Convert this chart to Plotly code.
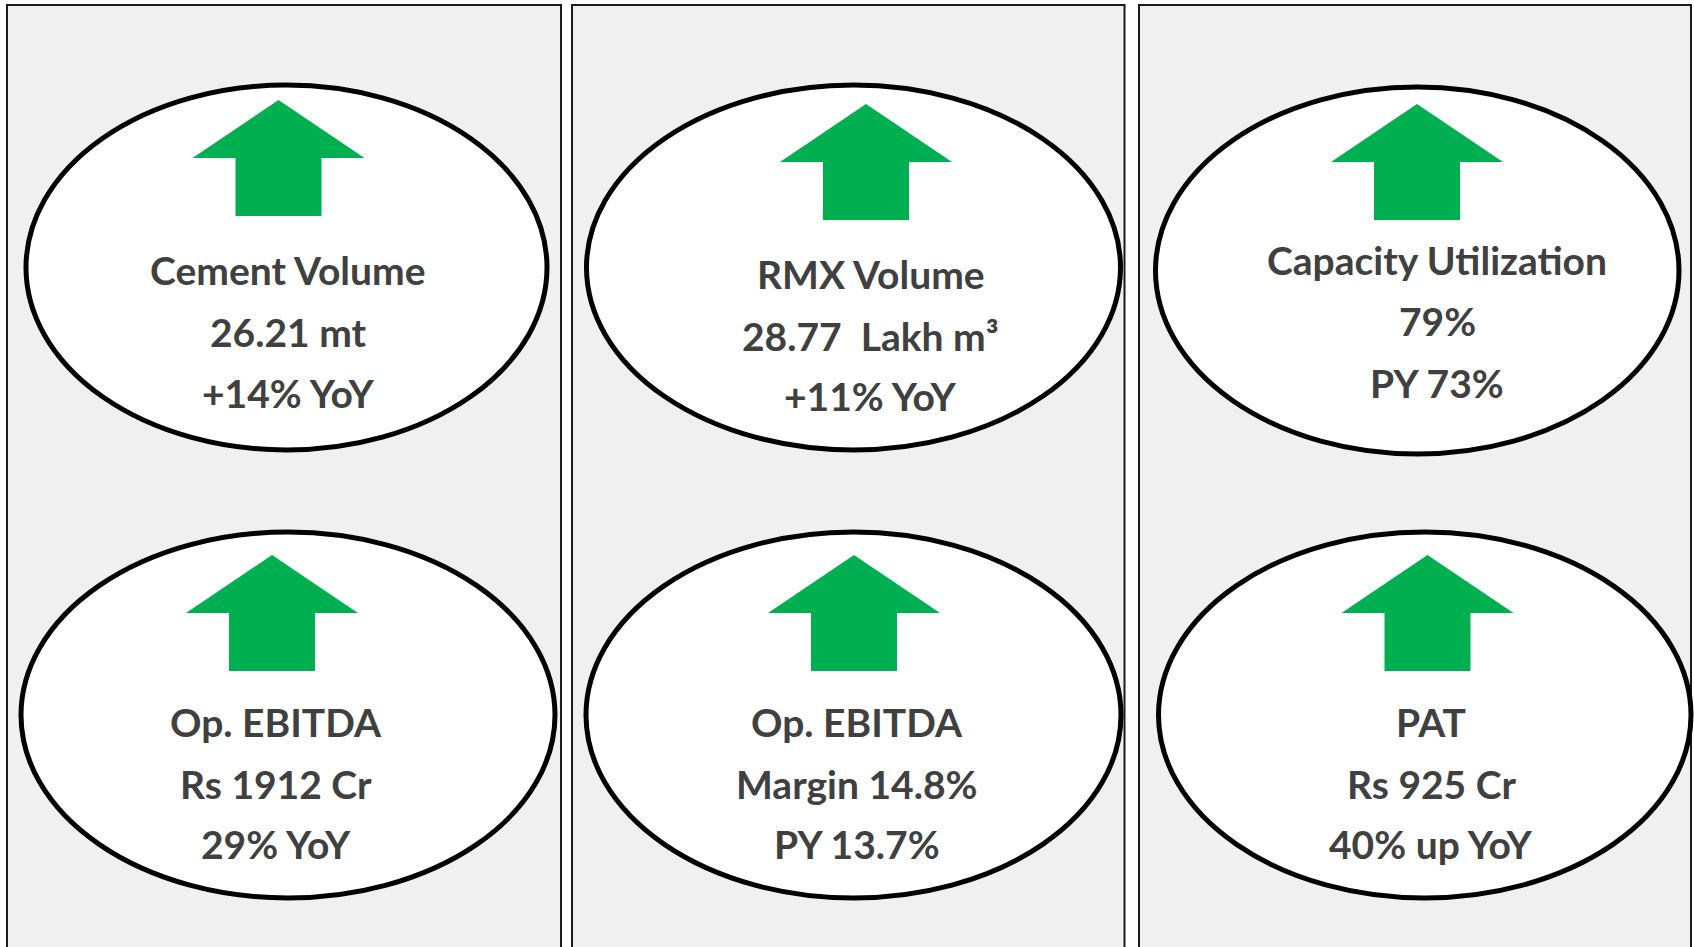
import plotly.graph_objects as go

# ---------------- data ----------------
titles = ["Cement Volume", "RMX Volume", "Capacity Utilization",
          "Op. EBITDA", "Op. EBITDA", "PAT"]
values = ["26.21 mt", "28.77\u00a0\u00a0Lakh m³", "79%",
          "Rs 1912 Cr", "Margin 14.8%", "Rs 925 Cr"]
changes = ["+14% YoY", "+11% YoY", "PY 73%",
           "29% YoY", "PY 13.7%", "40% up YoY"]
trend = ["up", "up", "up", "up", "up", "up"]

# ---------------- layout geometry (pixels) ----------------
W, H = 1694, 947
panel_x = [(7, 561), (572, 1124.5), (1139, 1691)]
panel_top = 5

# ellipse boxes (x0, x1, y0, y1)
ell = [(26, 547, 85, 450), (586.5, 1120.5, 85, 450), (1155.5, 1679, 87, 454),
       (21, 555, 532, 898), (586, 1121, 532, 898), (1158.5, 1691, 532, 898)]
# arrow tips
tips = [(278.5, 100), (866, 104), (1417, 104), (272, 555), (854, 555), (1427.5, 555)]
head_half, shaft_half, head_h, total_h = 86, 43, 58, 116
# text line centres
text_x = [288, 870.5, 1437, 276, 856.5, 1431]
text_y = [(270, 332, 393), (273.5, 335.5, 396), (260, 321, 382.5),
          (721.5, 783.5, 843.5), (721.5, 783.5, 843.5), (721.5, 783.5, 843.5)]

GREEN = "#00B050"
TEXT = "#404040"
FONT = "Lato"
FS = 39

fig = go.Figure()
shapes = []
for (x0, x1) in panel_x:
    shapes.append(dict(type="rect", xref="x", yref="y", x0=x0, x1=x1, y0=panel_top, y1=H + 20,
                       fillcolor="#F0F0F0", line=dict(color="#1A1A1A", width=2)))
for (x0, x1, y0, y1) in ell:
    shapes.append(dict(type="circle", xref="x", yref="y", x0=x0, x1=x1, y0=y0, y1=y1,
                       fillcolor="white", line=dict(color="black", width=5)))
for (tx, ty), t in zip(tips, trend):
    hb = ty + head_h
    bt = ty + total_h
    path = (f"M {tx},{ty} L {tx + head_half},{hb} L {tx + shaft_half},{hb} "
            f"L {tx + shaft_half},{bt} L {tx - shaft_half},{bt} L {tx - shaft_half},{hb} "
            f"L {tx - head_half},{hb} Z")
    shapes.append(dict(type="path", xref="x", yref="y", path=path,
                       fillcolor=GREEN, line=dict(width=0)))

annotations = []
for i in range(len(titles)):
    for txt, y in zip((titles[i], values[i], changes[i]), text_y[i]):
        annotations.append(dict(x=text_x[i], y=y, xref="x", yref="y", text=f"<b>{txt}</b>",
                                showarrow=False, xanchor="center", yanchor="middle",
                                font=dict(family=FONT, size=FS, color=TEXT)))

fig.update_layout(
    width=W, height=H, autosize=False,
    margin=dict(l=0, r=0, t=0, b=0, pad=0),
    paper_bgcolor="white", plot_bgcolor="white",
    xaxis=dict(range=[0, W], visible=False, fixedrange=True),
    yaxis=dict(range=[H, 0], visible=False, fixedrange=True),
    shapes=shapes, annotations=annotations, showlegend=False,
)

fig.write_html("out.html", config={"displayModeBar": False},
               post_script="document.body.style.margin='0';document.body.style.overflow='hidden';")
